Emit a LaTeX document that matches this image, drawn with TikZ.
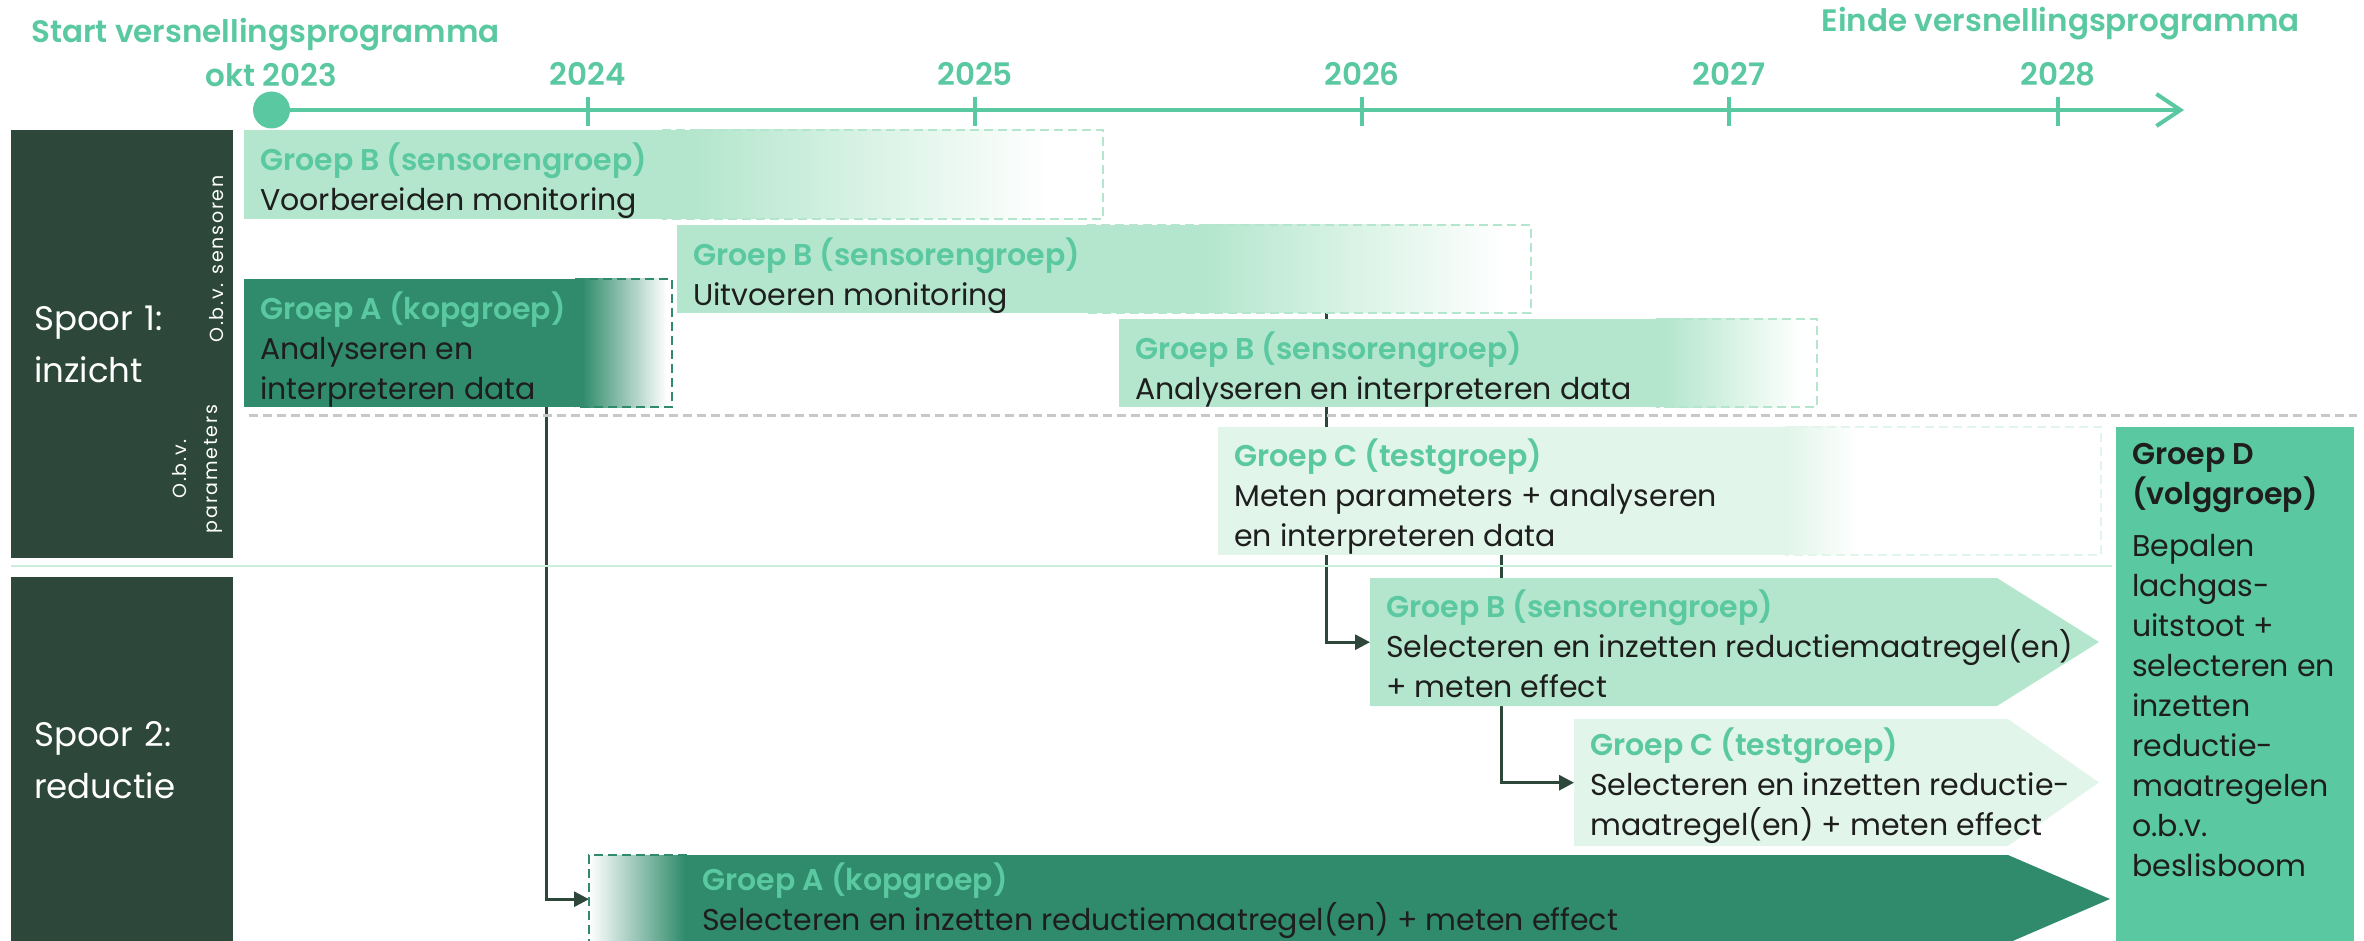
\documentclass[tikz,border=0pt]{standalone}
\usepackage{fontspec}
\setmainfont{Poppins}[BoldFont={Poppins SemiBold}]
\usetikzlibrary{arrows.meta,backgrounds}

\definecolor{spoor}{HTML}{2D473B}
\definecolor{kop}{HTML}{2F8B6B}
\definecolor{mint}{HTML}{5AC8A0}
\definecolor{sensor}{HTML}{B3E6CC}
\definecolor{test}{HTML}{E1F5EA}
\definecolor{ink}{HTML}{1E1E1E}
\definecolor{grijs}{HTML}{C8C8C8}
\definecolor{lijn}{HTML}{C8EEDC}

% group title + task, the strut sets how low the text sits in its bar
\newcommand{\taak}[3][40pt]{\rule{0pt}{#1}\textcolor{mint}{\bfseries #2}\\#3}
% bar with a faded, dashed tail
\newcommand{\fadebar}[7]{%
  \fill[#2] (#1.north west) rectangle ++(#3,#7);
  \shade[left color=#2, right color=white] ([xshift=#3]#1.north west) rectangle ++(#4,#7);
  \draw[edge, draw=#2] ([xshift=#5]#1.north west) -- ++(#6-#5,0) -- ++(0,#7) -- ++(#5-#6,0);}
% bar with an arrow point
\newcommand{\arrowbar}[5]{%
  \fill[#2] (#1.north west) -- ++(#3,0) -- ++(#4,#5/2) -- ++(-#4,#5/2) -- ++(-#3,0) -- cycle;}

\tikzset{
  bar/.style={anchor=north west, inner xsep=16pt, inner ysep=0pt, align=left, text=ink,
    font=\fontsize{30}{40}\selectfont},
  spoorbox/.style={anchor=north west, fill=spoor, text=white, minimum width=222pt,
    text width=176pt, align=left, inner sep=0pt, font=\fontsize{34}{52}\selectfont},
  obv/.style={rotate=90, inner sep=0pt, text=white,
    font=\fontsize{19}{31}\selectfont\addfontfeatures{LetterSpace=9}},
  jaar/.style={anchor=base, inner sep=0pt, text=mint, font=\fontsize{31}{36}\selectfont\bfseries},
  tick/.style={draw=mint, line width=4pt},
  axis/.style={draw=mint, line width=4pt, -{Straight Barb[length=24pt,width=32pt]}},
  edge/.style={line width=2pt, dash pattern=on 9pt off 5pt},
  link/.style={draw=spoor, line width=3pt, -{Triangle[length=15pt,width=15pt]}},
}

\begin{document}
\begin{tikzpicture}[x=1pt,y=-1pt]
  \useasboundingbox (0,0) rectangle (2364,941);

  % Timeline
  \node[jaar, anchor=base west] (start) at (31,43) {Start versnellingsprogramma};
  \node[jaar, anchor=base east] (einde) at (2300,32) {Einde versnellingsprogramma};
  \node[circle, fill=mint, minimum size=37pt, inner sep=0pt] (t0) at (271.5,110) {};
  \coordinate (t1) at (2184,110);
  \draw[axis] (t0) -- (t1);
  \node[jaar] (j2023) at (271,87) {okt 2023};
  \foreach \x/\yr in {588/2024, 975/2025, 1362/2026, 1729/2027, 2058/2028} {
    \draw[tick] (\x,97) -- ++(0,29);
    \node[jaar] (j\yr) at (\x,86) {\yr};
  }

  % Tracks
  \node[spoorbox, minimum height=428pt] (sp1) at (11,130) {Spoor 1:\\inzicht};
  \node[spoorbox, minimum height=366pt] (sp2) at (11,577) {Spoor 2:\\reductie};
  \node[obv, anchor=base] (obvs) at (223,259) {O.b.v. sensoren};
  \node[obv, align=center] (obvp) at (197,469) {O.b.v.\\parameters};
  \draw[grijs, edge, line width=3pt] (249,415) -- (2357,415);
  \draw[lijn, line width=2.5pt] (11,566) -- (2112,566);

  % Spoor 1
  \node[bar, minimum height=89pt] (vbm) at (244,130) {\taak{Groep B (sensorengroep)}{Voorbereiden monitoring}};
  \node[bar, minimum height=88pt] (uvm) at (677,225) {\taak{Groep B (sensorengroep)}{Uitvoeren monitoring}};
  \node[bar, minimum height=128pt] (aia) at (244,279) {\taak{Groep A (kopgroep)}{Analyseren en\\interpreteren data}};
  \node[bar, minimum height=88pt] (aib) at (1119,319) {\taak{Groep B (sensorengroep)}{Analyseren en interpreteren data}};
  \node[bar, minimum height=128pt] (mpc) at (1218,426.5) {\taak{Groep C (testgroep)}{Meten parameters + analyseren\\en interpreteren data}};

  % Spoor 2
  \node[bar, minimum height=128pt] (srb) at (1370,578) {\taak[31pt]{Groep B (sensorengroep)}{Selecteren en inzetten reductiemaatregel(en)\\+ meten effect}};
  \node[bar, minimum height=127pt] (src) at (1574,719) {\taak[34pt]{Groep C (testgroep)}{Selecteren en inzetten reductie-\\maatregel(en) + meten effect}};
  \node[bar, minimum height=88pt, inner xsep=113pt] (sra) at (589,855) {\taak[31pt]{Groep A (kopgroep)}{Selecteren en inzetten reductiemaatregel(en) + meten effect}};

  % Groep D
  \node[bar, inner ysep=16.5pt] (grd) at (2116,426.5) {\textbf{Groep D}\\\textbf{(volggroep)}\\[12pt]Bepalen\\lachgas-\\uitstoot +\\selecteren en\\inzetten\\reductie-\\maatregelen\\o.b.v.\\beslisboom};

  \begin{scope}[on background layer]
    % Connectors
    \draw[link] ([xshift=302]aia.south west) |- (sra.west);
    \draw[link] ([xshift=649]uvm.south west) |- (srb.west);
    \draw[link] ([xshift=283]mpc.south west) |- (src.west);
    % Bars
    \fadebar{vbm}{sensor}{446}{360}{418}{859}{89}
    \fadebar{uvm}{sensor}{523}{305}{410}{854}{88}
    \fadebar{aia}{kop}{338}{85}{331}{428}{128}
    \fadebar{aib}{sensor}{545}{137}{537}{698}{88}
    \fadebar{mpc}{test}{567}{75}{567}{883}{128}
    \arrowbar{srb}{sensor}{627}{102}{128}
    \arrowbar{src}{test}{434}{91}{127}
    \arrowbar{sra}{kop}{1419}{102}{88}
    \shade[left color=white, right color=kop] (sra.north west) rectangle ++(96,88);
    \draw[edge, draw=kop] ([xshift=98]sra.north west) -- (sra.north west) -- (sra.south west) -- ++(98,0);
    \fill[mint] (grd.north west) rectangle ++(238,520);
  \end{scope}
\end{tikzpicture}
\end{document}
